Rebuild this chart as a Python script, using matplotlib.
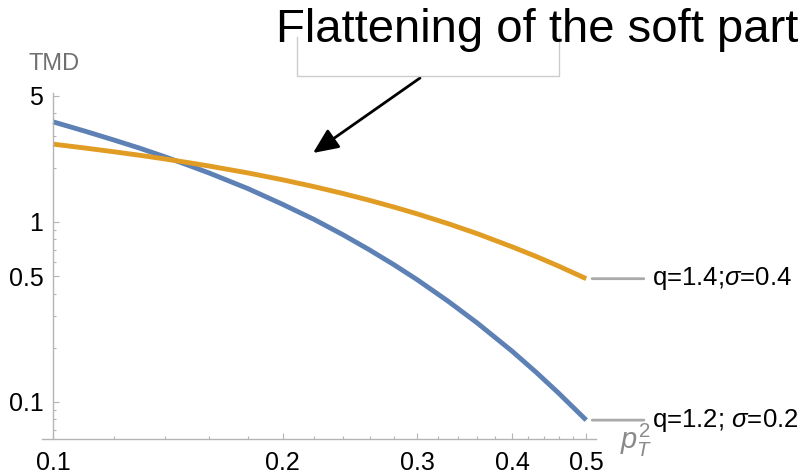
import matplotlib
matplotlib.use("Agg")
import matplotlib.pyplot as plt
from matplotlib.lines import Line2D
from matplotlib.ticker import FixedLocator, NullFormatter, FixedFormatter

plt.rcParams['font.family'] = ['Liberation Sans', 'DejaVu Sans']
plt.rcParams['mathtext.fontset'] = 'custom'
plt.rcParams['mathtext.rm'] = 'Liberation Sans'
plt.rcParams['mathtext.it'] = 'Liberation Sans:italic'

# p_T^2 grid and the two TMD curves
pt2 = [0.1, 0.11, 0.12, 0.13, 0.14, 0.15, 0.16, 0.18, 0.2, 0.22, 0.24, 0.26,
       0.28, 0.3, 0.33, 0.36, 0.4, 0.43, 0.46, 0.5]
tmd_q12 = [3.59, 3.19, 2.85, 2.56, 2.30, 2.07, 1.87, 1.53, 1.25, 1.03, 0.847,
           0.698, 0.577, 0.478, 0.361, 0.274, 0.191, 0.146, 0.112, 0.0793]
tmd_q14 = [2.70, 2.57, 2.45, 2.34, 2.235, 2.136, 2.042, 1.869, 1.711, 1.567,
           1.436, 1.316, 1.207, 1.108, 0.975, 0.859, 0.726, 0.642, 0.568, 0.4835]
labels = ["q=1.2; $\\sigma$=0.2", "q=1.4;$\\sigma$=0.4"]

x_major = [0.1, 0.2, 0.3, 0.4, 0.5]
x_minor = [0.12, 0.14, 0.16, 0.18, 0.22, 0.24, 0.26, 0.28, 0.32, 0.34, 0.36,
           0.38, 0.42, 0.44, 0.46, 0.48]
y_major = [0.1, 0.5, 1, 5]
y_labels = ["0.1", "0.5", "1", "5"]
y_minor = [0.07, 0.08, 0.09, 0.2, 0.3, 0.4, 0.6, 0.7, 0.8, 0.9, 2, 3, 4]

blue = "#5E81B5"
orange = "#E19C24"
axgray = "#b4b4b4"

fig = plt.figure(figsize=(8.07, 4.76), dpi=100)
W, H = 807, 476
ax = fig.add_axes([42 / W, 1 - 439 / H, 554 / W, 346 / H])

ax.plot(pt2, tmd_q12, color=blue, lw=3.5, solid_capstyle="butt")
ax.plot(pt2, tmd_q14, color=orange, lw=3.5, solid_capstyle="butt")

ax.set_xscale("log")
ax.set_yscale("log")
ax.set_xlim(0.0967, 0.515)
ax.set_ylim(0.0623, 5.19)

for s in ["top", "right"]:
    ax.spines[s].set_visible(False)
ax.spines["left"].set_position(("data", 0.1))
for s in ["left", "bottom"]:
    ax.spines[s].set_color(axgray)
    ax.spines[s].set_linewidth(1)

ax.xaxis.set_major_locator(FixedLocator(x_major))
ax.xaxis.set_major_formatter(FixedFormatter([str(v) for v in x_major]))
ax.xaxis.set_minor_locator(FixedLocator(x_minor))
ax.xaxis.set_minor_formatter(NullFormatter())
ax.yaxis.set_major_locator(FixedLocator(y_major))
ax.yaxis.set_major_formatter(FixedFormatter(y_labels))
ax.yaxis.set_minor_locator(FixedLocator(y_minor))
ax.yaxis.set_minor_formatter(NullFormatter())

ax.tick_params(which="both", direction="in", color=axgray, width=0.8,
               labelsize=18, labelcolor="black")
ax.tick_params(which="major", length=4.5)
ax.tick_params(which="minor", length=2.5)
ax.tick_params(axis="x", which="major", pad=9)
ax.tick_params(axis="y", which="major", pad=7)

# curve labels with short gray leader lines
for ys, lab in zip([tmd_q12, tmd_q14], labels):
    ax.annotate(lab, xy=(pt2[-1], ys[-1]), xytext=(66, 0),
                textcoords="offset pixels", ha="left", va="center",
                fontsize=18.5, color="black", annotation_clip=False,
                arrowprops=dict(arrowstyle="-", color="#aaaaaa", lw=2,
                                shrinkA=4, shrinkB=4.3))

fig.text(54 / W, 1 - 70 / H, "TMD", ha="center", va="baseline",
         color="#707070", fontsize=17)
fig.text(620 / W, 1 - 449 / H, "$p_T^2$", ha="left", va="baseline",
         color="#8a8a8a", fontsize=21)

# box behind the title
box = [(297, 37), (297, 76), (559, 76), (559, 37)]
fig.add_artist(Line2D([p[0] / W for p in box], [1 - p[1] / H for p in box],
                      color="#cccccc", lw=1))
fig.text(276 / W, 1 - 42 / H, "Flattening of the soft part", ha="left",
         va="baseline", fontsize=34, color="black")

ax.annotate("", xy=(313, H - 153), xycoords="figure pixels",
            xytext=(420, H - 78), textcoords="figure pixels",
            arrowprops=dict(arrowstyle="-|>,head_length=0.9,head_width=0.4",
                            color="black", lw=2, mutation_scale=17,
                            shrinkA=0, shrinkB=0))

fig.savefig("out.png", dpi=100)
